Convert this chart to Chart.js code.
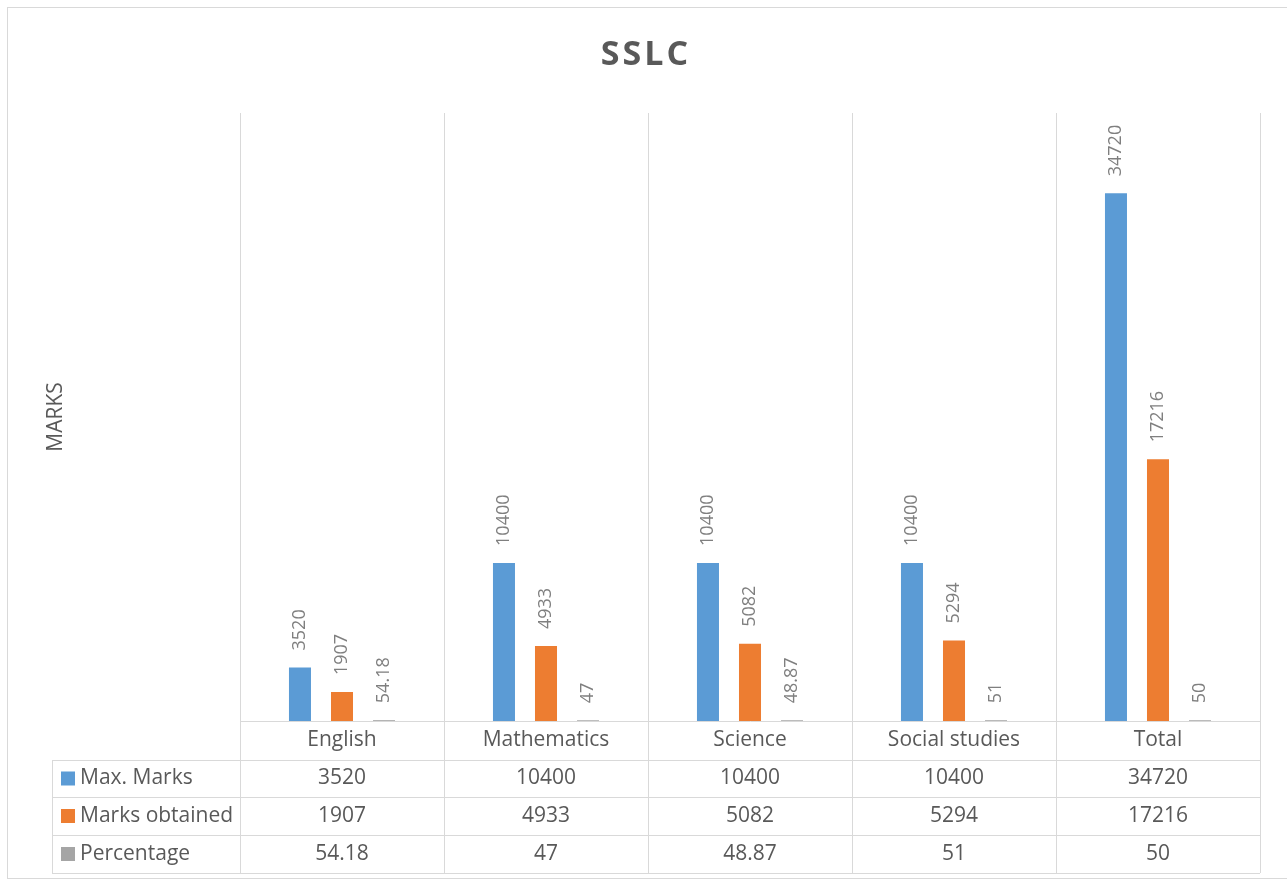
<!DOCTYPE html>
<html>
<head>
<meta charset="utf-8">
<script src="https://cdn.jsdelivr.net/npm/chart.js@4/dist/chart.umd.min.js"></script>
<style>
  body { margin: 0; background: #fff; }
</style>
</head>
<body>
<canvas id="sslcChart" width="1287" height="882"></canvas>
<script>
const subjects = ['English', 'Mathematics', 'Science', 'Social studies', 'Total'];
const maxMarks = [3520, 10400, 10400, 10400, 34720];
const marksObtained = [1907, 4933, 5082, 5294, 17216];
const percentage = [54.18, 47, 48.87, 51, 50];
const seriesNames = ['Max. Marks', 'Marks obtained', 'Percentage'];
const seriesColors = ['#5b9bd5', '#ed7d31', '#a5a5a5'];

const fontFamily = "'Open Sans', sans-serif";
const gridColor = '#d9d9d9';
const textColor = '#595959';

// rotated value labels above each bar
const valueLabels = {
    id: 'valueLabels',
    afterDatasetsDraw(chart) {
        const ctx = chart.ctx;
        ctx.save();
        ctx.font = '18px ' + fontFamily;
        ctx.fillStyle = '#7f7f7f';
        ctx.textAlign = 'left';
        ctx.textBaseline = 'middle';
        chart.data.datasets.forEach((ds, i) => {
            chart.getDatasetMeta(i).data.forEach((bar, j) => {
                ctx.save();
                ctx.translate(bar.x, bar.y - 17);
                ctx.rotate(-Math.PI / 2);
                ctx.fillText(String(ds.data[j]), 0, 0);
                ctx.restore();
            });
        });
        ctx.restore();
    }
};

// title + data table under the plot, columns follow the x scale
const dataTable = {
    id: 'dataTable',
    afterDraw(chart) {
        const ctx = chart.ctx;
        const area = chart.chartArea;
        const xs = chart.scales.x;
        const half = (xs.getPixelForValue(1) - xs.getPixelForValue(0)) / 2;
        const edges = subjects.map((s, i) => xs.getPixelForValue(i) - half);
        edges.push(xs.getPixelForValue(subjects.length - 1) + half);
        const rowY = [0, 39, 76, 114, 152].map(v => area.bottom + v);
        const leftX = 52;

        ctx.save();
        // outer chart border
        ctx.strokeStyle = gridColor;
        ctx.lineWidth = 1;
        ctx.strokeRect(7.5, 7.5, 1290, 871);

        // title, spaced letters
        ctx.font = 'bold 34px ' + fontFamily;
        ctx.fillStyle = textColor;
        ctx.textAlign = 'center';
        ctx.textBaseline = 'middle';
        ctx.letterSpacing = '3px';
        ctx.fillText('SSLC', (area.left + area.right) / 2 - 104, 55);
        ctx.letterSpacing = '0px';

        ctx.beginPath();
        edges.forEach(x => {
            ctx.moveTo(Math.round(x) + 0.5, area.bottom);
            ctx.lineTo(Math.round(x) + 0.5, rowY[4]);
        });
        ctx.moveTo(leftX + 0.5, rowY[1]);
        ctx.lineTo(leftX + 0.5, rowY[4]);
        for (let r = 1; r < rowY.length; r++) {
            ctx.moveTo(leftX, rowY[r] + 0.5);
            ctx.lineTo(edges[edges.length - 1], rowY[r] + 0.5);
        }
        ctx.stroke();

        ctx.font = '21px ' + fontFamily;
        ctx.fillStyle = textColor;
        ctx.textAlign = 'center';
        subjects.forEach((s, i) => {
            ctx.fillText(s, xs.getPixelForValue(i), (rowY[0] + rowY[1]) / 2);
        });
        const rows = [maxMarks, marksObtained, percentage];
        rows.forEach((vals, r) => {
            const cy = (rowY[r + 1] + rowY[r + 2]) / 2;
            ctx.textAlign = 'center';
            vals.forEach((v, i) => ctx.fillText(String(v), xs.getPixelForValue(i), cy));
            ctx.fillStyle = seriesColors[r];
            ctx.fillRect(leftX + 9, cy - 7, 14, 14);
            ctx.fillStyle = textColor;
            ctx.textAlign = 'left';
            ctx.fillText(seriesNames[r], leftX + 28, cy);
        });
        ctx.restore();
    }
};

const ctx = document.getElementById('sslcChart').getContext('2d');
const sslcChart = new Chart(ctx, {
    type: 'bar',
    data: {
        labels: subjects,
        datasets: [
            { label: seriesNames[0], data: maxMarks, backgroundColor: seriesColors[0] },
            { label: seriesNames[1], data: marksObtained, backgroundColor: seriesColors[1] },
            { label: seriesNames[2], data: percentage, backgroundColor: seriesColors[2] }
        ]
    },
    options: {
        responsive: false,
        animation: false,
        categoryPercentage: 0.618,
        barPercentage: 0.524,
        layout: { padding: { left: 39, right: 27, top: 113, bottom: 0 } },
        plugins: {
            legend: { display: false },
            tooltip: { enabled: false },
            title: { display: false }
        },
        scales: {
            x: {
                grid: { color: gridColor, drawTicks: false, offset: true },
                border: { color: gridColor },
                ticks: { display: false },
                afterFit(axis) { axis.height = 161; }
            },
            y: {
                min: 0,
                max: 40000,
                grid: { display: false },
                border: { display: false },
                ticks: { display: false },
                title: {
                    display: true,
                    text: 'MARKS',
                    color: textColor,
                    font: { family: fontFamily, size: 21 }
                },
                afterFit(axis) { axis.width = 201; }
            }
        }
    },
    plugins: [valueLabels, dataTable]
});
</script>
</body>
</html>
